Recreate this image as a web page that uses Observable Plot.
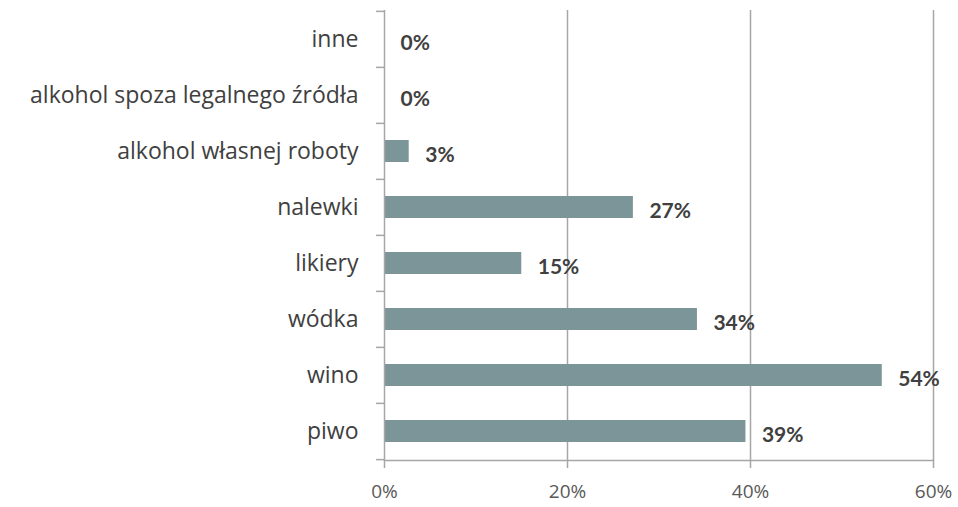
<!DOCTYPE html>
<html><head><meta charset="utf-8">
<script src="https://cdn.jsdelivr.net/npm/d3@7"></script>
<script src="https://cdn.jsdelivr.net/npm/@observablehq/plot@0.6"></script>
<style>body{margin:0;background:#fff;} svg{display:block;}</style>
</head><body><div id="chart"></div>
<script>
const categories = ["inne","alkohol spoza legalnego źródła","alkohol własnej roboty","nalewki","likiery","wódka","wino","piwo"];
const values = [0, 0, 2.7, 27.2, 15.0, 34.2, 54.4, 39.5];
const valueLabels = ["0%","0%","3%","27%","15%","34%","54%","39%"];
const xTicks = [0, 20, 40, 60];
const xTickLabels = ["0%","20%","40%","60%"];

const data = categories.map((c, i) => ({cat: c, v: values[i], label: valueLabels[i]}));
const W = 958, H = 507, mt = 10, mb = 47;
const step = (H - mt - mb) / categories.length;
const axisColor = "#a6a6a6";

const chart = Plot.plot({
  width: W, height: H,
  marginLeft: 384, marginRight: 25, marginTop: mt, marginBottom: mb,
  style: {fontFamily: "'Open Sans', sans-serif", background: "#fff"},
  x: {domain: [0, 60], ticks: xTicks},
  y: {domain: categories, paddingInner: 0.6, paddingOuter: 0.3, align: 0.5},
  marks: [
    Plot.ruleX(xTicks.slice(1), {stroke: axisColor, strokeWidth: 1.5, insetBottom: -8}),
    Plot.barX(data, {y: "cat", x: "v", fill: "#7c9599"}),
    Plot.ruleX([0], {stroke: axisColor, strokeWidth: 1.5, insetBottom: -8}),
    Plot.frame({anchor: "bottom", stroke: axisColor, strokeWidth: 1.5}),
    Plot.ruleY(categories, {y: d => d, x1: -0.87, x2: 0, dy: -step / 2, stroke: axisColor, strokeWidth: 1.5}),
    Plot.ruleY(categories.slice(-1), {y: d => d, x1: -0.87, x2: 0, dy: step / 2, stroke: axisColor, strokeWidth: 1.5}),
    Plot.axisY({tickSize: 0, tickPadding: 26, fontSize: 23, fill: "#404040", label: null}),
    Plot.axisX({ticks: xTicks, tickFormat: (d, i) => xTickLabels[i], tickSize: 0, tickPadding: 24, fontSize: 19, fill: "#595959", label: null}),
    Plot.text(data, {y: "cat", x: "v", text: "label", textAnchor: "start", dx: 16, dy: 4,
      fontFamily: "Lato, sans-serif", fontWeight: "bold", fontSize: 21, fill: "#404040"})
  ]
});
document.getElementById("chart").appendChild(chart);
</script>
</body></html>
